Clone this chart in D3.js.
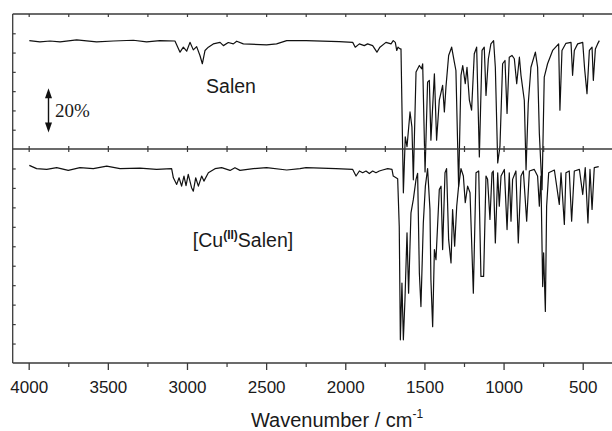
<!DOCTYPE html>
<html>
<head>
<meta charset="utf-8">
<script src="https://cdn.jsdelivr.net/npm/d3@7"></script>
<style>
  html, body { margin: 0; padding: 0; background: #fff; }
  svg { display: block; font-family: "Liberation Sans", Arial, sans-serif; }
</style>
</head>
<body>
<div id="chart"></div>
<script>
// wavenumber (cm-1), transmittance (%) relative to each panel's base
const salenSpectrum = [
  [3996, 56.2], [3929, 55.5], [3865, 56.0], [3802, 55.5], [3697, 56.6], [3571, 55.5],
  [3465, 56.0], [3339, 56.4], [3255, 55.5], [3171, 56.2], [3076, 56.0], [3044, 50.2],
  [3023, 52.8], [3002, 50.7], [2981, 55.3], [2960, 51.4], [2939, 53.1], [2918, 48.5],
  [2903, 44.2], [2886, 51.1], [2865, 52.8], [2834, 54.5], [2791, 55.3], [2770, 53.6],
  [2739, 55.2], [2707, 54.5], [2686, 55.9], [2644, 54.5], [2497, 54.0], [2434, 54.5],
  [2370, 56.2], [2248, 56.2], [2038, 55.7], [1953, 55.3], [1937, 52.8], [1911, 54.5],
  [1880, 53.6], [1859, 54.5], [1827, 53.6], [1800, 50.2], [1781, 52.8], [1743, 55.3],
  [1711, 54.5], [1697, 56.2], [1684, 55.3], [1675, 51.1], [1667, 52.8], [1654, 51.9],
  [1648, 51.9], [1633, -22.7], [1621, 6.3], [1610, 1.2], [1591, 19.2], [1579, 11.5],
  [1570, -16.0], [1553, 39.9], [1532, 43.3], [1518, 41.6], [1511, 44.2], [1496, -11.9],
  [1480, 34.7], [1469, 35.6], [1459, 4.6], [1437, 39.0], [1423, 4.6], [1406, 25.3],
  [1385, 33.0], [1374, 19.2], [1364, 32.1], [1347, 48.5], [1328, 52.8], [1311, 45.0],
  [1301, 40.7], [1284, -19.4], [1269, 38.2], [1258, 43.3], [1242, 33.9], [1231, 42.4],
  [1216, 25.3], [1202, 20.1], [1185, 49.4], [1170, 52.8], [1153, -4.1], [1136, 51.1],
  [1122, 52.8], [1111, 27.8], [1096, 46.8], [1080, 54.5], [1063, 56.2], [1052, 42.4],
  [1037, -7.2], [1023, 1.2], [1006, 44.2], [991, 45.9], [978, 18.4], [964, 47.6],
  [947, 48.5], [932, 46.8], [917, 33.9], [900, 47.6], [890, 38.2], [869, 25.3],
  [858, -10.8], [844, 23.6], [827, 42.4], [799, 50.2], [785, 42.4], [774, 8.1],
  [757, -21.1], [743, 37.3], [722, 44.2], [690, 51.1], [652, 54.5], [644, 20.1],
  [631, 51.1], [606, 54.8], [574, 55.3], [564, 38.2], [553, 51.1], [532, 54.5],
  [500, 55.3], [488, 41.6], [473, 28.7], [458, 51.1], [441, 52.8], [433, 35.6],
  [420, 51.9], [406, 54.5], [395, 56.2]
];

const cuSalenSpectrum = [
  [3996, 101.6], [3950, 99.9], [3886, 99.5], [3823, 100.4], [3750, 99.0], [3676, 100.4],
  [3592, 99.9], [3507, 101.2], [3423, 99.9], [3297, 100.2], [3192, 99.5], [3097, 99.9],
  [3086, 95.2], [3065, 91.8], [3050, 95.2], [3034, 90.9], [3019, 96.1], [3006, 91.2],
  [2992, 97.0], [2971, 90.1], [2960, 88.3], [2945, 95.2], [2928, 90.9], [2907, 96.1],
  [2893, 93.5], [2865, 97.8], [2823, 99.9], [2781, 100.4], [2728, 99.0], [2697, 100.4],
  [2665, 99.0], [2581, 99.9], [2497, 100.4], [2370, 99.2], [2286, 99.9], [2248, 100.4],
  [2059, 99.9], [1953, 99.5], [1932, 96.1], [1911, 98.7], [1890, 97.8], [1869, 98.7],
  [1848, 97.4], [1827, 98.7], [1806, 97.8], [1785, 98.7], [1764, 99.2], [1732, 99.9],
  [1705, 99.5], [1697, 96.1], [1669, 94.7], [1659, 70.0], [1652, 11.9], [1642, 41.1],
  [1633, 11.9], [1623, 32.5], [1610, 66.9], [1600, 35.9], [1585, 77.2], [1570, 84.1],
  [1553, 94.4], [1543, 97.5], [1532, 46.3], [1522, 29.0], [1507, 72.0], [1494, 90.9],
  [1480, 99.9], [1465, 78.9], [1459, 42.8], [1448, 18.7], [1437, 58.3], [1427, 53.1],
  [1406, 89.2], [1395, 90.9], [1385, 58.3], [1370, 97.8], [1360, 99.9], [1347, 63.4],
  [1332, 51.4], [1322, 78.9], [1309, 60.0], [1296, 80.6], [1284, 90.9], [1269, 99.9],
  [1254, 96.1], [1242, 82.4], [1227, 90.9], [1212, 87.5], [1191, 35.9], [1174, 97.8],
  [1157, 98.7], [1143, 44.5], [1126, 44.5], [1111, 96.1], [1101, 94.4], [1086, 73.8],
  [1073, 97.8], [1065, 98.7], [1052, 61.7], [1037, 97.8], [1027, 80.6], [1016, 96.1],
  [995, 99.5], [978, 68.6], [964, 97.8], [953, 72.9], [943, 94.4], [922, 98.7],
  [907, 61.7], [890, 96.1], [875, 98.7], [854, 72.9], [837, 98.7], [806, 99.5],
  [785, 96.1], [774, 80.6], [764, 96.1], [753, 39.3], [747, 56.6], [736, 26.5],
  [728, 80.6], [715, 97.8], [679, 99.2], [648, 81.5], [637, 97.8], [616, 71.2],
  [606, 97.8], [585, 98.7], [570, 72.9], [553, 98.7], [521, 99.5], [500, 86.6],
  [484, 100.4], [467, 72.0], [454, 99.5], [441, 78.9], [427, 100.4], [399, 100.9]
];

const majorTicks = [4000, 3500, 3000, 2500, 2000, 1500, 1000, 500];
const minorTicks = [3750, 3250, 2750, 2250, 1750, 1250, 750];
const topPanelTicks = [10, 20, 30, 40, 50, 60];
const bottomPanelTicks = [10, 20, 30, 40, 50, 60, 70, 80, 90, 100];

const W = 612, H = 431;
const plotLeft = 12.7, plotTop = 14, plotSplit = 149, plotBottom = 363;

const svg = d3.select("#chart").append("svg")
  .attr("width", W)
  .attr("height", H);

// scales
const x = d3.scaleLinear().domain([4101, 315]).range([plotLeft, W]);
const yTop = d3.scaleLinear().domain([0, 70]).range([plotSplit, plotTop]);
const yBot = d3.scaleLinear().domain([0, 110]).range([plotBottom, plotSplit]);

const axisColor = "#3a3a3a";

// traces
const line = (ys) => d3.line().x(d => x(d[0])).y(d => ys(d[1]));

svg.append("path")
  .datum(salenSpectrum)
  .attr("d", line(yTop))
  .attr("fill", "none")
  .attr("stroke", "#111")
  .attr("stroke-width", 1.2)
  .attr("stroke-linejoin", "round");

svg.append("path")
  .datum(cuSalenSpectrum)
  .attr("d", line(yBot))
  .attr("fill", "none")
  .attr("stroke", "#111")
  .attr("stroke-width", 1.2)
  .attr("stroke-linejoin", "round");

// frame lines
const frame = svg.append("g").attr("stroke", axisColor).attr("stroke-width", 1.3);
frame.append("line").attr("x1", plotLeft).attr("x2", plotLeft).attr("y1", plotTop).attr("y2", plotBottom);
frame.append("line").attr("x1", plotLeft).attr("x2", W).attr("y1", plotTop).attr("y2", plotTop);
frame.append("line").attr("x1", plotLeft).attr("x2", W).attr("y1", plotSplit).attr("y2", plotSplit);
frame.append("line").attr("x1", plotLeft).attr("x2", W).attr("y1", plotBottom).attr("y2", plotBottom);

// bottom axis
const xAxis = svg.append("g")
  .attr("transform", `translate(0,${plotBottom})`)
  .call(d3.axisBottom(x).tickValues(majorTicks).tickSize(7).tickPadding(11).tickSizeOuter(0).tickFormat(d3.format("d")));
xAxis.select(".domain").remove();
xAxis.selectAll(".tick line").attr("stroke", axisColor).attr("stroke-width", 1.3);
xAxis.selectAll(".tick text")
  .style("font-size", "17px")
  .style("font-family", "'Liberation Sans', Arial, sans-serif")
  .attr("fill", "#1a1a1a");

const xMinor = svg.append("g")
  .attr("transform", `translate(0,${plotBottom})`)
  .call(d3.axisBottom(x).tickValues(minorTicks).tickSize(4).tickFormat(""));
xMinor.select(".domain").remove();
xMinor.selectAll(".tick line").attr("stroke", axisColor).attr("stroke-width", 1.2);

// small inward ticks on top line and both sides of the divider
const allX = majorTicks.concat(minorTicks);
function smallTicks(y, axisFn) {
  const g = svg.append("g")
    .attr("transform", `translate(0,${y})`)
    .call(axisFn(x).tickValues(allX).tickSize(-3).tickFormat(""));
  g.select(".domain").remove();
  g.selectAll(".tick line").attr("stroke", axisColor).attr("stroke-width", 1.2);
}
smallTicks(plotTop, d3.axisTop);
smallTicks(plotSplit, d3.axisBottom);
smallTicks(plotSplit, d3.axisTop);

// left ticks (inward)
function leftTicks(scale, values) {
  const g = svg.append("g")
    .attr("transform", `translate(${plotLeft},0)`)
    .call(d3.axisRight(scale).tickValues(values).tickSize(3).tickFormat(""));
  g.select(".domain").remove();
  g.selectAll(".tick line").attr("stroke", axisColor).attr("stroke-width", 1.2);
}
leftTicks(yTop, topPanelTicks);
leftTicks(yBot, bottomPanelTicks);

// x axis title
const title = svg.append("text")
  .attr("x", 337)
  .attr("y", 427)
  .attr("text-anchor", "middle")
  .style("font-size", "20px")
  .attr("fill", "#1a1a1a");
title.append("tspan").text("Wavenumber / cm");
title.append("tspan").attr("dy", -9).style("font-size", "12px").text("-1");

// panel labels
svg.append("text")
  .attr("x", 231)
  .attr("y", 93)
  .attr("text-anchor", "middle")
  .style("font-size", "19.5px")
  .attr("fill", "#1a1a1a")
  .text("Salen");

const cu = svg.append("text")
  .attr("x", 243)
  .attr("y", 247)
  .attr("text-anchor", "middle")
  .style("font-size", "19.5px")
  .attr("fill", "#1a1a1a");
cu.append("tspan").text("[Cu");
cu.append("tspan").attr("dy", -8).style("font-size", "12px").style("font-weight", "bold").text("(II)");
cu.append("tspan").attr("dy", 8).text("Salen]");

// 20% scale arrow
const ax = 48.5;
const a1 = yTop(31.5), a2 = yTop(8.5);
svg.append("line")
  .attr("x1", ax).attr("x2", ax)
  .attr("y1", a1 + 5).attr("y2", a2 - 5)
  .attr("stroke", "#111").attr("stroke-width", 1.4);
svg.append("path")
  .attr("d", `M${ax},${a1} L${ax - 3.5},${a1 + 10} L${ax + 3.5},${a1 + 10} Z`)
  .attr("fill", "#111");
svg.append("path")
  .attr("d", `M${ax},${a2} L${ax - 3.5},${a2 - 10} L${ax + 3.5},${a2 - 10} Z`)
  .attr("fill", "#111");
svg.append("text")
  .attr("x", 55)
  .attr("y", 117)
  .style("font-family", "'Liberation Serif', 'Times New Roman', serif")
  .style("font-size", "19px")
  .attr("fill", "#1a1a1a")
  .text("20%");
</script>
</body>
</html>
